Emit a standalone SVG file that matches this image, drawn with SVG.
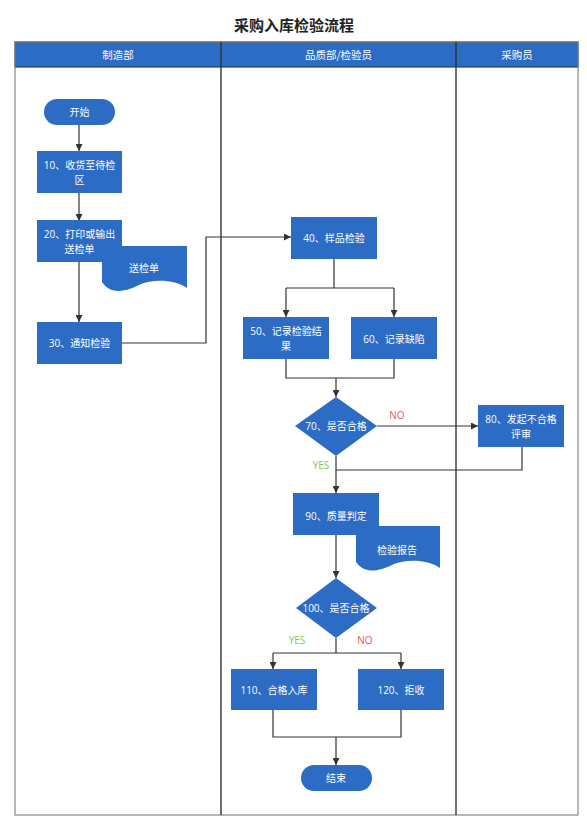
<svg xmlns="http://www.w3.org/2000/svg" width="587" height="819" viewBox="0 0 587 819">
<style>
.t{font-family:"Open Sans","Noto Sans CJK SC",sans-serif;font-size:10px;fill:#fff;text-anchor:middle;dominant-baseline:central}
.title{font-family:"Noto Sans CJK SC",sans-serif;font-size:15px;font-weight:bold;fill:#222;text-anchor:middle}
.h{font-family:"Noto Sans CJK SC",sans-serif;font-size:10.5px;fill:#fff;text-anchor:middle;dominant-baseline:central}
.n{fill:#2d6cc4}
.c{fill:none;stroke:#333;stroke-width:1.2}
.yes{font-family:"Open Sans",sans-serif;font-size:10px;fill:#7cc84a;text-anchor:middle;dominant-baseline:central}
.no{font-family:"Open Sans",sans-serif;font-size:10px;fill:#e25c5c;text-anchor:middle;dominant-baseline:central}
</style>
<defs>
<marker id="a" viewBox="0 0 10 10" refX="10" refY="5" markerWidth="7" markerHeight="7" markerUnits="userSpaceOnUse" orient="auto">
<path d="M0,0 L10,5 L0,10 Z" fill="#333"/>
</marker>
</defs>
<rect width="587" height="819" fill="#fff"/>
<text class="title" x="294" y="31">采购入库检验流程</text>
<g id="pool">
<rect x="15" y="42" width="563" height="25" fill="#2d6cc4" stroke="#1f3f73" stroke-width="1.2"/>
<rect x="15" y="42" width="563" height="773" fill="none" stroke="#888" stroke-width="1.2"/>
<line x1="221" y1="42" x2="221" y2="815" stroke="#333" stroke-width="1.4"/>
<line x1="456" y1="42" x2="456" y2="815" stroke="#333" stroke-width="1.4"/>
<text class="h" x="118" y="54.5">制造部</text>
<text class="h" x="338.5" y="54.5">品质部/检验员</text>
<text class="h" x="517" y="54.5">采购员</text>
</g>
<g id="connectors">
<path class="c" d="M79,125 V151" marker-end="url(#a)"/>
<path class="c" d="M79,193 V221" marker-end="url(#a)"/>
<path class="c" d="M79,262 V322" marker-end="url(#a)"/>
<path class="c" d="M122,343 H206 V237 H291" marker-end="url(#a)"/>
<path class="c" d="M334,259 V288"/>
<path class="c" d="M286,288 H394"/>
<path class="c" d="M286,288 V317" marker-end="url(#a)"/>
<path class="c" d="M394,288 V317" marker-end="url(#a)"/>
<path class="c" d="M286,359 V378 H394 V359"/>
<path class="c" d="M336,378 V397" marker-end="url(#a)"/>
<path class="c" d="M377,426 H478" marker-end="url(#a)"/>
<path class="c" d="M522,447 V470 H336"/>
<path class="c" d="M336,456 V493" marker-end="url(#a)"/>
<path class="c" d="M336,535 V578" marker-end="url(#a)"/>
<path class="c" d="M336,638 V653"/>
<path class="c" d="M273,653 H401"/>
<path class="c" d="M273,653 V669" marker-end="url(#a)"/>
<path class="c" d="M401,653 V669" marker-end="url(#a)"/>
<path class="c" d="M273,710 V737 H401 V710"/>
<path class="c" d="M336,737 V765" marker-end="url(#a)"/>
<text class="no" x="397" y="415">NO</text>
<text class="yes" x="321" y="465">YES</text>
<text class="yes" x="297" y="640">YES</text>
<text class="no" x="365" y="640">NO</text>
</g>
<g id="start">
<rect class="n" x="44" y="99" width="71" height="26" rx="13"/>
<text class="t" x="79.5" y="112">开始</text>
</g>
<g id="n10">
<rect class="n" x="37" y="151" width="85" height="42"/>
<text class="t" x="79.5" y="165">10、收货至待检</text>
<text class="t" x="79.5" y="180">区</text>
</g>
<g id="doc1">
<path class="n" d="M102,246 H187 V288 C175,279 152,279 141,284 C129,290 112,297 102,282 Z"/>
<text class="t" x="144" y="268">送检单</text>
</g>
<g id="n20">
<rect class="n" x="37" y="220" width="85" height="42"/>
<text class="t" x="79.5" y="234">20、打印或输出</text>
<text class="t" x="79.5" y="249">送检单</text>
</g>
<g id="n30">
<rect class="n" x="37" y="322" width="85" height="42"/>
<text class="t" x="79.5" y="343">30、通知检验</text>
</g>
<g id="n40">
<rect class="n" x="291" y="217" width="86" height="42"/>
<text class="t" x="334" y="238">40、样品检验</text>
</g>
<g id="n50">
<rect class="n" x="243" y="317" width="86" height="42"/>
<text class="t" x="286" y="331">50、记录检验结</text>
<text class="t" x="286" y="346">果</text>
</g>
<g id="n60">
<rect class="n" x="351" y="317" width="86" height="42"/>
<text class="t" x="394" y="339">60、记录缺陷</text>
</g>
<g id="n70">
<path class="n" d="M336,397 L377,426 L336,456 L295,426 Z"/>
<text class="t" x="336" y="426">70、是否合格</text>
</g>
<g id="n80">
<rect class="n" x="478" y="405" width="86" height="42"/>
<text class="t" x="521" y="419">80、发起不合格</text>
<text class="t" x="521" y="434">评审</text>
</g>
<g id="doc2">
<path class="n" d="M356,526 H440 V568 C428,559 405,559 394,564 C382,570 366,576 356,562 Z"/>
<text class="t" x="397" y="550">检验报告</text>
</g>
<g id="n90">
<rect class="n" x="293" y="493" width="86" height="42"/>
<text class="t" x="336" y="516">90、质量判定</text>
</g>
<g id="n100">
<path class="n" d="M336,578 L377,608 L336,638 L296,608 Z"/>
<text class="t" x="336" y="608">100、是否合格</text>
</g>
<g id="n110">
<rect class="n" x="231" y="669" width="86" height="41"/>
<text class="t" x="274" y="690">110、合格入库</text>
</g>
<g id="n120">
<rect class="n" x="358" y="669" width="86" height="41"/>
<text class="t" x="401" y="690">120、拒收</text>
</g>
<g id="end">
<rect class="n" x="301" y="765" width="71" height="26" rx="13"/>
<text class="t" x="336" y="778">结束</text>
</g>
</svg>
